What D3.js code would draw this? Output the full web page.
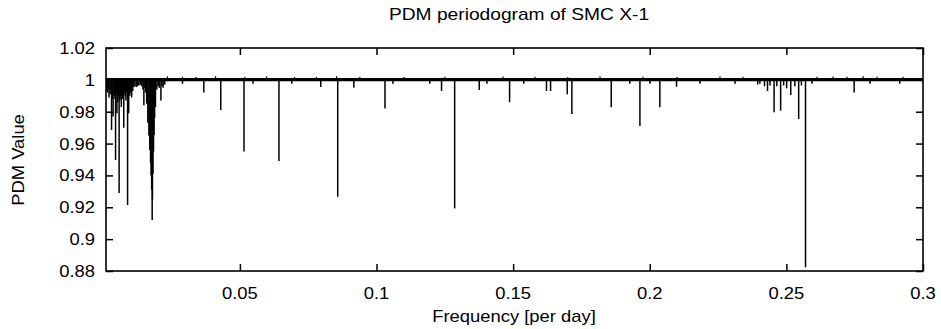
<!DOCTYPE html>
<html>
<head>
<meta charset="utf-8">
<script src="https://cdn.jsdelivr.net/npm/d3@7"></script>
<style>
  html, body { margin: 0; padding: 0; background: #fff; }
  svg { display: block; }
  text { font-family: "Liberation Sans", Arial, Helvetica, sans-serif; fill: #000; }
</style>
</head>
<body>
<script>
// ---------- data ----------
const titleText = "PDM periodogram of SMC X-1";
const xLabelText = "Frequency [per day]";
const yLabelText = "PDM Value";

const freqDomain = [0.001, 0.3];
const valueDomain = [0.88, 1.02];
const freqTicks = [0.05, 0.1, 0.15, 0.2, 0.25, 0.3];
const freqTickLabels = ["0.05", "0.1", "0.15", "0.2", "0.25", "0.3"];
const valueTicks = [0.88, 0.9, 0.92, 0.94, 0.96, 0.98, 1.0, 1.02];
const valueTickLabels = ["0.88", "0.9", "0.92", "0.94", "0.96", "0.98", "1", "1.02"];

// noise band around the periodogram baseline
const bandFreq = [0.001, 0.3];
const bandUpper = [1.0012, 1.0012];
const bandLower = [0.9991, 0.9991];
const baselineValue = 1.0;

// small upward noise spikes (frequency, maximum PDM value)
const peakFreq = [
  0.0235, 0.0290, 0.0340, 0.0411, 0.0518, 0.0598, 0.0700, 0.0780, 0.0854, 0.0939,
  0.1100, 0.1250, 0.1463, 0.1580, 0.1700, 0.1818, 0.1975, 0.2100, 0.2257, 0.2341,
  0.2612, 0.2671, 0.2722, 0.2781, 0.2832, 0.2927
];
const peakValue = [
  1.0022, 1.0020, 1.0018, 1.0022, 1.0020, 1.0021, 1.0018, 1.0019, 1.0023, 1.0020,
  1.0018, 1.0019, 1.0021, 1.0020, 1.0018, 1.0021, 1.0019, 1.0018, 1.0021, 1.0020,
  1.0020, 1.0021, 1.0019, 1.0022, 1.0020, 1.0019
];

// dips of the periodogram (frequency, minimum PDM value)
const dipFreq = [
  0.0012, 0.0015, 0.0018, 0.0021, 0.0025, 0.0028, 0.00304, 0.0033, 0.0036, 0.0040,
  0.0043, 0.0045, 0.0048, 0.0050, 0.0053, 0.0056, 0.0058, 0.0061, 0.0064, 0.0066,
  0.0070, 0.0073, 0.0075, 0.0078, 0.0081, 0.0083, 0.0086, 0.0089, 0.0093, 0.0097,
  0.0100, 0.0104, 0.0108, 0.0112, 0.0116, 0.0121, 0.0125, 0.0130, 0.0135, 0.0140,
  0.0145, 0.01486, 0.0152, 0.0155, 0.0159, 0.0163, 0.0167, 0.0170, 0.0173, 0.0175,
  0.0177, 0.0179, 0.0180, 0.0182, 0.0184, 0.0186, 0.0188, 0.0191, 0.0196, 0.0201,
  0.0205, 0.0211, 0.0215, 0.0219, 0.0225,
  0.0290, 0.0368, 0.0430, 0.0515, 0.0548, 0.0643, 0.0690, 0.0796, 0.0858, 0.0917,
  0.1031, 0.1060, 0.1195, 0.1238, 0.1286, 0.1376, 0.1404, 0.1487, 0.1539, 0.1622,
  0.1637, 0.1698, 0.1715, 0.1859, 0.1927, 0.1964, 0.2001, 0.2037, 0.2098, 0.2184,
  0.2312, 0.2395, 0.2403, 0.2420, 0.2431, 0.2440, 0.2455, 0.2465, 0.2479, 0.2490,
  0.2501, 0.2516, 0.2531, 0.2545, 0.2555, 0.2570, 0.2594, 0.2748, 0.2806, 0.2915
];
const dipValue = [
  0.9930, 0.9920, 0.9940, 0.9890, 0.9910, 0.9935, 0.9685, 0.9880, 0.9770, 0.9900,
  0.9880, 0.9497, 0.9910, 0.9790, 0.9860, 0.9900, 0.9290, 0.9870, 0.9900, 0.9830,
  0.9880, 0.9920, 0.9700, 0.9910, 0.9900, 0.9870, 0.9920, 0.9214, 0.9790, 0.9900,
  0.9920, 0.9890, 0.9930, 0.9955, 0.9960, 0.9955, 0.9960, 0.9965, 0.9970, 0.9960,
  0.9940, 0.9840, 0.9950, 0.9920, 0.9850, 0.9730, 0.9650, 0.9560, 0.9480, 0.9400,
  0.9310, 0.9120, 0.9250, 0.9410, 0.9550, 0.9654, 0.9760, 0.9830, 0.9940, 0.9960,
  0.9950, 0.9870, 0.9960, 0.9950, 0.9970,
  0.9975, 0.9920, 0.9810, 0.9550, 0.9975, 0.9490, 0.9975, 0.9955, 0.9266, 0.9950,
  0.9820, 0.9975, 0.9975, 0.9930, 0.9193, 0.9936, 0.9975, 0.9860, 0.9975, 0.9930,
  0.9930, 0.9910, 0.9785, 0.9828, 0.9975, 0.9710, 0.9975, 0.9828, 0.9957, 0.9975,
  0.9975, 0.9970, 0.9975, 0.9960, 0.9930, 0.9965, 0.9796, 0.9960, 0.9806, 0.9965,
  0.9947, 0.9905, 0.9960, 0.9754, 0.9965, 0.8823, 0.9975, 0.9920, 0.9975, 0.9975
];

// ---------- chart ----------
const W = 941, H = 329;
const plot = { left: 106, right: 923, top: 48, bottom: 271 };
const stretch = 1.15;

const svg = d3.select("body").append("svg").attr("width", W).attr("height", H);

const x = d3.scaleLinear().domain(freqDomain).range([plot.left, plot.right]);
const y = d3.scaleLinear().domain(valueDomain).range([plot.bottom, plot.top]);

svg.append("clipPath").attr("id", "clip").append("rect")
  .attr("x", plot.left).attr("y", plot.top)
  .attr("width", plot.right - plot.left).attr("height", plot.bottom - plot.top);

const g = svg.append("g").attr("clip-path", "url(#clip)");

// noise band
const bandData = bandFreq.map((f, i) => ({ f, hi: bandUpper[i], lo: bandLower[i] }));
g.append("path")
  .datum(bandData)
  .attr("d", d3.area().x(d => x(d.f)).y0(d => y(d.lo)).y1(d => y(d.hi)))
  .attr("fill", "#000");

// upward noise spikes
const peaks = peakFreq.map((f, i) => ({ f, v: peakValue[i] }));
g.selectAll("line.peak").data(peaks).join("line")
  .attr("class", "peak")
  .attr("x1", d => x(d.f)).attr("x2", d => x(d.f))
  .attr("y1", y(baselineValue)).attr("y2", d => y(d.v))
  .attr("stroke", "#000").attr("stroke-width", 1.2);

// dips
const dips = dipFreq.map((f, i) => ({ f, v: dipValue[i] }));
g.selectAll("line.dip").data(dips).join("line")
  .attr("class", "dip")
  .attr("x1", d => x(d.f)).attr("x2", d => x(d.f))
  .attr("y1", y(baselineValue)).attr("y2", d => y(d.v))
  .attr("stroke", "#000").attr("stroke-width", 1.5);

// axes (inward ticks, mirrored)
const tickLen = 7;
const axB = d3.axisBottom(x).tickValues(freqTicks).tickSize(-tickLen).tickFormat("");
const axT = d3.axisTop(x).tickValues(freqTicks).tickSize(-tickLen).tickFormat("");
const axL = d3.axisLeft(y).tickValues(valueTicks).tickSize(-tickLen).tickFormat("");
const axR = d3.axisRight(y).tickValues(valueTicks).tickSize(-tickLen).tickFormat("");

function styleAxis(sel) {
  sel.select(".domain").remove();
  sel.selectAll(".tick line").attr("stroke", "#000").attr("stroke-width", 1.5);
}
svg.append("g").attr("transform", `translate(0,${plot.bottom})`).call(axB).call(styleAxis);
svg.append("g").attr("transform", `translate(0,${plot.top})`).call(axT).call(styleAxis);
svg.append("g").attr("transform", `translate(${plot.left},0)`).call(axL).call(styleAxis);
svg.append("g").attr("transform", `translate(${plot.right},0)`).call(axR).call(styleAxis);

// border
svg.append("rect")
  .attr("x", plot.left).attr("y", plot.top)
  .attr("width", plot.right - plot.left).attr("height", plot.bottom - plot.top)
  .attr("fill", "none").attr("stroke", "#000").attr("stroke-width", 1.6);

// tick labels
const fs = 16;
freqTicks.forEach((t, i) => {
  svg.append("g").attr("transform", `translate(${x(t)},${299}) scale(${stretch},1)`)
    .append("text").attr("text-anchor", "middle").attr("font-size", fs)
    .text(freqTickLabels[i]);
});
valueTicks.forEach((t, i) => {
  svg.append("g").attr("transform", `translate(${95},${y(t) + 6}) scale(${stretch},1)`)
    .append("text").attr("text-anchor", "end").attr("font-size", fs)
    .text(valueTickLabels[i]);
});

// titles
svg.append("g").attr("transform", `translate(${519},${20}) scale(${1.2},1)`)
  .append("text").attr("text-anchor", "middle").attr("font-size", fs).text(titleText);
svg.append("g").attr("transform", `translate(${514},${322}) scale(${stretch},1)`)
  .append("text").attr("text-anchor", "middle").attr("font-size", fs).text(xLabelText);
svg.append("g").attr("transform", `translate(${24},${160}) rotate(-90) scale(${stretch},1)`)
  .append("text").attr("text-anchor", "middle").attr("font-size", fs).text(yLabelText);
</script>
</body>
</html>
